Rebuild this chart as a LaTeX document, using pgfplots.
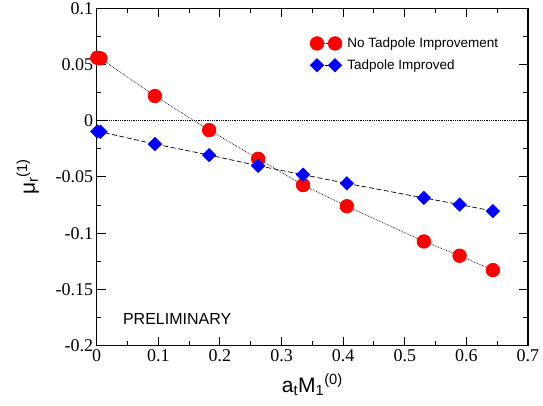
\documentclass[border=0pt]{standalone}
\usepackage{pgfplots}
\pgfplotsset{compat=1.18}
\usepackage{fontspec}
\setmainfont{Liberation Sans}
\newfontfamily\serifnum{Liberation Serif}
\pgfplotstableread{
x y
0.001 0.0560
0.006 0.0555
0.0945 0.0220
0.1825 -0.0083
0.262 -0.0338
0.335 -0.0572
0.406 -0.0760
0.531 -0.1073
0.589 -0.1200
0.643 -0.1328
}\noimp
\pgfplotstableread{
x y
0.001 -0.0095
0.006 -0.0098
0.0945 -0.0207
0.1825 -0.0305
0.262 -0.0400
0.335 -0.0480
0.406 -0.0557
0.531 -0.0686
0.589 -0.0745
0.643 -0.0803
}\imp
\begin{document}
\begin{tikzpicture}
\useasboundingbox (-96.7pt,-60.3pt) rectangle (446.3pt,345.7pt);
\begin{axis}[
  at={(0pt,0pt)}, anchor=south west,
  scale only axis, width=431.3pt, height=337.4pt,
  xmin=0, xmax=0.7, ymin=-0.2, ymax=0.1,
  clip=false,
  xtick={0,0.1,0.2,0.3,0.4,0.5,0.6,0.7},
  ytick={-0.2,-0.15,-0.1,-0.05,0,0.05,0.1},
  minor x tick num=1, minor y tick num=1,
  tick align=inside, major tick length=9pt, minor tick length=4.5pt,
  every tick/.style={black, line width=1pt},
  axis line style={line width=1.3pt},
  ticklabel style={font=\serifnum\fontsize{18}{20}\selectfont},
  /pgf/number format/assume math mode=true,
  /pgf/number format/fixed,
  /pgf/number format/precision=2,
  xlabel={a\textsubscript{t}M\textsubscript{1}\textsuperscript{(0)}},
  ylabel={μ\textsubscript{r}\textsuperscript{(1)}},
  label style={font=\fontsize{21}{24}\selectfont},
  xlabel style={yshift=-6pt},
  ylabel style={yshift=10pt},
  legend image code/.code={\draw[#1, mark repeat=1] plot coordinates {(0pt,0pt) (18pt,0pt)}; \path (28pt,0pt);},
  legend style={at={(0.49,0.925)}, anchor=north west, draw=none, fill=none,
    font=\fontsize{13.5}{16}\selectfont, row sep=6.5pt, inner sep=2pt},
  legend cell align=left,
]
\addplot[black, densely dotted, line width=0.8pt, forget plot] coordinates {(0,0) (0.7,0)};
\addplot[black, densely dotted, line width=0.7pt, mark=*, mark size=6.8pt,
  mark options={solid, draw=red, fill=red}] table[x=x,y=y] {\noimp};
\addlegendentry{No Tadpole Improvement}
\addplot[black, dash pattern=on 5pt off 2.5pt, line width=0.7pt, mark=square*, mark size=4.7pt,
  mark options={solid, rotate=45, draw=blue, fill=blue}] table[x=x,y=y] {\imp};
\addlegendentry{Tadpole Improved}
\node[anchor=west, font=\fontsize{16}{18}\selectfont] at (axis cs:0.037,-0.1765) {PRELIMINARY};
\end{axis}
\end{tikzpicture}
\end{document}
